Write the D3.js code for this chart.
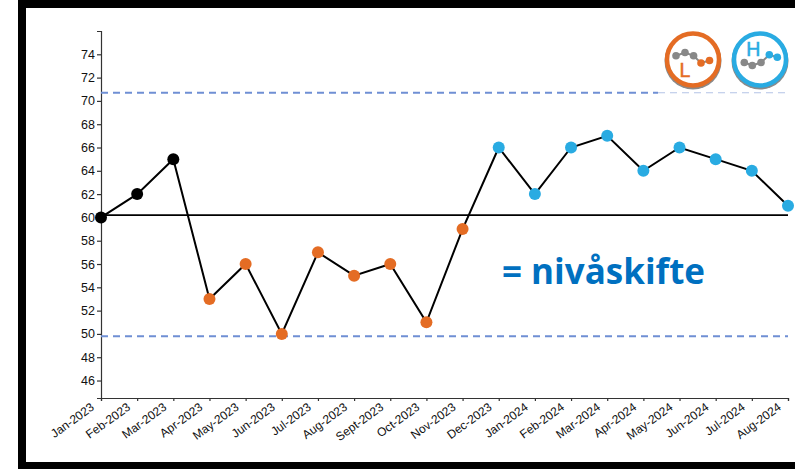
<!DOCTYPE html>
<html><head><meta charset="utf-8">
<script src="https://cdn.jsdelivr.net/npm/d3@7"></script>
<style>html,body{margin:0;padding:0;background:#fff}svg{display:block}</style>
</head><body><svg id="c" width="795" height="469"></svg>
<script>
const categories = ["Jan-2023","Feb-2023","Mar-2023","Apr-2023","May-2023","Jun-2023","Jul-2023","Aug-2023","Sept-2023","Oct-2023","Nov-2023","Dec-2023","Jan-2024","Feb-2024","Mar-2024","Apr-2024","May-2024","Jun-2024","Jul-2024","Aug-2024"];
const values = [60,62,65,53,56,50,57,55,56,51,59,66,62,66,67,64,66,65,64,61];
const pointGroups = ["n","n","n","l","l","l","l","l","l","l","l","h","h","h","h","h","h","h","h","h"];
const yTicks = [46,48,50,52,54,56,58,60,62,64,66,68,70,72,74];
const centerLine = 60.2;
const upperLimit = 70.7;
const lowerLimit = 49.8;
const annotation = "= nivåskifte";
const groupColors = {n:"#000000", l:"#e46c24", h:"#29abe2"};
const iconLow = [[-17,-3.7,0],[-8,-7,0],[0.6,-3.7,0],[8,3.5,1],[16.5,1,1]];
const iconHigh = [[-15.7,3,0],[-7.7,6,0],[1,3,0],[9.3,-4.7,1],[17.3,-2.3,1]];

const svg = d3.select("#c");
const font = "Liberation Sans, Arial, sans-serif";

// frame
svg.append("rect").attr("x",22).attr("y",4).attr("width",800).attr("height",462)
  .attr("fill","#fff").attr("stroke","#000").attr("stroke-width",8);

const x = d3.scalePoint().domain(categories).range([101,788]);
const y = d3.scaleLinear().domain([44.5,76]).range([398,31]);

// y axis
const gy = svg.append("g").attr("transform","translate(101,0)")
  .call(d3.axisLeft(y).tickValues(yTicks).tickFormat(d3.format("d")).tickSize(4).tickPadding(2));
// x axis
const gx = svg.append("g").attr("transform","translate(0,398)")
  .call(d3.axisBottom(x).tickSize(3).tickPadding(3));
[gx,gy].forEach(g=>{
  g.selectAll("path,line").attr("stroke","#333").attr("stroke-width",1.2);
  g.selectAll("text").attr("font-family",font).attr("fill","#111");
});
gy.selectAll("text").attr("font-size",12.5);
gx.selectAll("text").attr("font-size",12)
  .attr("text-anchor","end").attr("dx","0").attr("dy","0")
  .attr("transform","translate(-10,6) rotate(-36)");

// reference lines
const lineX = x.range();
svg.append("line").attr("x1",lineX[0]).attr("x2",lineX[1])
  .attr("y1",y(centerLine)).attr("y2",y(centerLine)).attr("stroke","#000").attr("stroke-width",1.8);
[upperLimit,lowerLimit].forEach(v=>{
  svg.append("line").attr("x1",lineX[0]).attr("x2",lineX[1])
    .attr("y1",y(v)).attr("y2",y(v)).attr("stroke","#6f8fd4").attr("stroke-width",2.2)
    .attr("stroke-dasharray","7 5");
});
// the pasted icon image fades the limit line at the right
svg.append("rect").attr("x",658).attr("y",y(upperLimit)-2).attr("width",132).attr("height",4).attr("fill","#fff");
svg.append("line").attr("x1",658).attr("x2",lineX[1])
  .attr("y1",y(upperLimit)).attr("y2",y(upperLimit)).attr("stroke","#b4c4e6").attr("stroke-width",1.2)
  .attr("stroke-dasharray","7 5");

// series
svg.append("path").datum(values)
  .attr("fill","none").attr("stroke","#000").attr("stroke-width",2)
  .attr("d",d3.line().x((d,i)=>x(categories[i])).y(d=>y(d)));
svg.selectAll("circle.pt").data(values).join("circle").attr("class","pt")
  .attr("cx",(d,i)=>x(categories[i])).attr("cy",d=>y(d)).attr("r",6)
  .attr("fill",(d,i)=>groupColors[pointGroups[i]]);

svg.append("text").attr("x",502).attr("y",284).attr("font-family","Open Sans, sans-serif")
  .attr("font-weight",700).attr("font-size",35).attr("fill","#0070c0").text(annotation);

// icons
function icon(cx,cy,col,pts,label,ly){
  const g = svg.append("g").attr("transform",`translate(${cx},${cy})`);
  g.append("circle").attr("cx",0).attr("cy",1.5).attr("r",28.5).attr("fill","#8a8a8a");
  g.append("circle").attr("r",26).attr("fill","#fff").attr("stroke",col).attr("stroke-width",4.5);
  g.append("path").datum(pts).attr("fill","none").attr("stroke","#888").attr("stroke-width",2)
    .attr("d",d3.line().x(d=>d[0]).y(d=>d[1]));
  g.selectAll("circle.d").data(pts).join("circle").attr("class","d")
    .attr("cx",d=>d[0]).attr("cy",d=>d[1]).attr("r",3.8)
    .attr("fill",d=>d[2]?col:"#888");
  g.append("text").attr("x",ly[0]).attr("y",ly[1]).attr("text-anchor","middle")
    .attr("font-family",font).attr("font-size",19.5).attr("fill",col)
    .attr("stroke",col).attr("stroke-width",0.5).text(label);
}
icon(693,59.5,groupColors.l,iconLow,"L",[-8,17]);
icon(760,59.5,groupColors.h,iconHigh,"H",[-6.7,-4]);
</script></body></html>
